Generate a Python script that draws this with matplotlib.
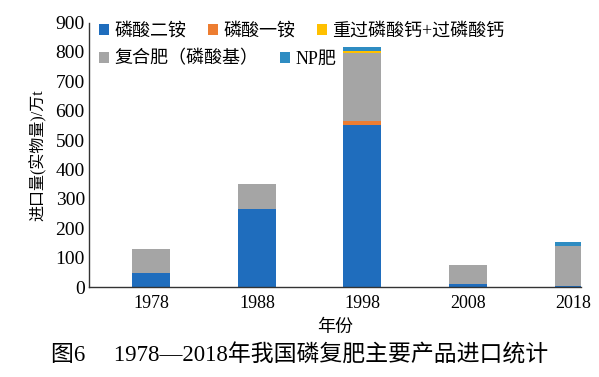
import numpy as np
import matplotlib.pyplot as plt
from matplotlib.patches import Patch

plt.rcParams['font.family'] = ['Liberation Serif', 'Noto Sans CJK SC']

years = ['1978', '1988', '1998', '2008', '2018']
dap = [48, 265, 551, 9, 2]          # 磷酸二铵
map_ = [0, 0, 15, 0, 3]             # 磷酸一铵
tsp = [0, 0, 8, 0, 0]               # 重过磷酸钙+过磷酸钙
compound = [80, 86, 230, 67, 135]   # 复合肥（磷酸基）
np_fert = [0, 0, 12, 0, 13]         # NP肥

names = ['磷酸二铵', '磷酸一铵', '重过磷酸钙+过磷酸钙', '复合肥（磷酸基）', 'NP肥']
colors = ['#1f6dbd', '#ed7d31', '#ffc000', '#a5a5a5', '#2e8cc2']

fig = plt.figure(figsize=(5.99, 3.77), dpi=100)
ax = fig.add_axes([0.1486, 0.2387, 0.8214, 0.7013])

x = np.arange(len(years))
w = 0.36
bottom = np.zeros(len(years))
# stacking order: DAP, MAP, compound, TSP, NP
for vals, c in [(dap, colors[0]), (map_, colors[1]), (compound, colors[3]),
                (tsp, colors[2]), (np_fert, colors[4])]:
    vals = np.array(vals, dtype=float)
    ax.bar(x, vals, w, bottom=bottom, color=c, linewidth=0)
    bottom = bottom + vals

ax.set_xlim(-0.59, 4.07)
ax.set_ylim(0, 900)
ax.set_yticks(np.arange(0, 901, 100))
ax.set_xticks(x)
ax.set_xticklabels(years)
ax.tick_params(length=0, labelsize=13, pad=6)
ax.tick_params(axis='y', labelsize=14, pad=3)
for s in ['top', 'right']:
    ax.spines[s].set_visible(False)
for s in ['left', 'bottom']:
    ax.spines[s].set_color('#333333')
    ax.spines[s].set_linewidth(1.0)

ax.set_ylabel('进口量(实物量)/万t', fontsize=11.5, labelpad=6)
ax.set_xlabel('年份', fontsize=13, labelpad=5)

def handles(idx):
    return [Patch(facecolor=colors[i], edgecolor='none', label=names[i]) for i in idx]

leg_kw = dict(frameon=False, fontsize=13, handlelength=0.55, handleheight=0.55,
              handletextpad=0.3, columnspacing=1.2, borderaxespad=0, borderpad=0)
leg1 = ax.legend(handles=handles([0, 1, 2]), ncol=3, loc='upper left',
                 bbox_to_anchor=(0.02, 1.0), **leg_kw)
ax.add_artist(leg1)
ax.legend(handles=handles([3, 4]), ncol=2, loc='upper left',
          bbox_to_anchor=(0.02, 0.895), **leg_kw)

fig.text(0.5, 0.058, '图6\u2003 1978—2018年我国磷复肥主要产品进口统计',
         ha='center', va='center', fontsize=16.5)

fig.savefig('out.png', dpi=100)
